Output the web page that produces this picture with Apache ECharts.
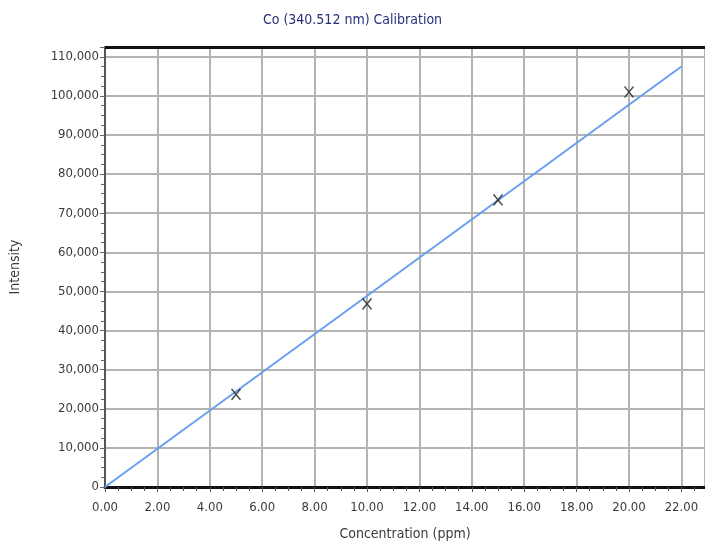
<!doctype html>
<html>
  <head>
    <meta charset="utf-8">
    <title>Co Calibration</title>
    <script src="https://cdn.jsdelivr.net/npm/echarts@6/dist/echarts.min.js"></script>
    <style>
      html, body { margin: 0; padding: 0; background: #fff; }
    </style>
  </head>
  <body>
    <div id="main" style="width:705px;height:551px;"></div>
  </body>
  <script>
   // calibration standards (ppm, intensity)
   var standardConc = [5, 10, 15, 20];
   var standardIntensity = [23700, 46800, 73400, 101000];
   // fitted line end points
   var fitConc = [0, 22];
   var fitIntensity = [0, 107500];

   var FONT = "'DejaVu Sans Condensed', 'DejaVu Sans', sans-serif";
   var textColor = '#3a3a3a';

   var chart = echarts.init(document.getElementById('main'));

   var pts = [];
   for (var i = 0; i < standardConc.length; i++) {
     pts.push([standardConc[i], standardIntensity[i]]);
   }
   var fit = [];
   for (var j = 0; j < fitConc.length; j++) {
     fit.push([fitConc[j], fitIntensity[j]]);
   }

   var option = {
     backgroundColor: '#fff',
     animation: false,
     title: {
       text: 'Co (340.512 nm) Calibration',
       left: 'center',
       top: 8,
       textStyle: {
         fontFamily: FONT, fontSize: 14, fontWeight: 'normal', color: '#26307a'
       }
     },
     grid: { left: 100, right: 0, top: 47, bottom: 64 },
     xAxis: {
       type: 'value',
       min: 0,
       max: 22.9,
       interval: 2,
       name: 'Concentration (ppm)',
       nameLocation: 'middle',
       nameGap: 40,
       nameTextStyle: { fontFamily: FONT, fontSize: 14, color: textColor },
       axisLine: { show: true, onZero: false, lineStyle: { color: '#111', width: 3 } },
       axisTick: { show: true, length: 5, lineStyle: { color: '#555' } },
       minorTick: { show: true, splitNumber: 4, length: 4, lineStyle: { color: '#555' } },
       axisLabel: {
         fontFamily: FONT, fontSize: 13, color: textColor, margin: 14,
         showMaxLabel: false,
         formatter: function (v) { return (Math.abs(v % 2) < 1e-9) ? v.toFixed(2) : ''; }
       },
       splitLine: { show: true, lineStyle: { color: '#b4b4b4', width: 2 } }
     },
     yAxis: {
       type: 'value',
       min: 0,
       max: 112500,
       interval: 10000,
       name: 'Intensity',
       nameLocation: 'middle',
       nameGap: 83,
       nameRotate: 90,
       nameTextStyle: { fontFamily: FONT, fontSize: 14, color: textColor },
       axisLine: { show: true, lineStyle: { color: '#555', width: 2 } },
       axisTick: { show: true, length: 5, lineStyle: { color: '#666' } },
       minorTick: { show: true, splitNumber: 4, length: 4, lineStyle: { color: '#666' } },
       axisLabel: {
         fontFamily: FONT, fontSize: 13, color: textColor, margin: 6,
         showMaxLabel: false,
         formatter: function (v) {
           if (v % 10000 !== 0) return '';
           return v.toLocaleString('en-US');
         }
       },
       splitLine: { show: true, lineStyle: { color: '#b4b4b4', width: 2 } }
     },
     series: [
       {
         name: 'fit',
         type: 'line',
         data: fit,
         showSymbol: false,
         lineStyle: { color: '#6a9ef0', width: 2 },
         z: 2
       },
       {
         name: 'standards',
         type: 'scatter',
         data: pts,
         symbol: 'path://M0,0L10,12M10,0L0,12',
         symbolSize: [9, 11],
         itemStyle: { color: 'none', borderColor: '#222', borderWidth: 1.5 },
         z: 3
       },
       {
         // thick top border of the plot
         name: 'border',
         type: 'line',
         data: [],
         markLine: {
           silent: true,
           symbol: 'none',
           label: { show: false },
           lineStyle: { color: '#111', width: 3, type: 'solid' },
           data: [{ yAxis: 112500 }]
         }
       }
     ]
   };
   chart.setOption(option);
  </script>
</html>
